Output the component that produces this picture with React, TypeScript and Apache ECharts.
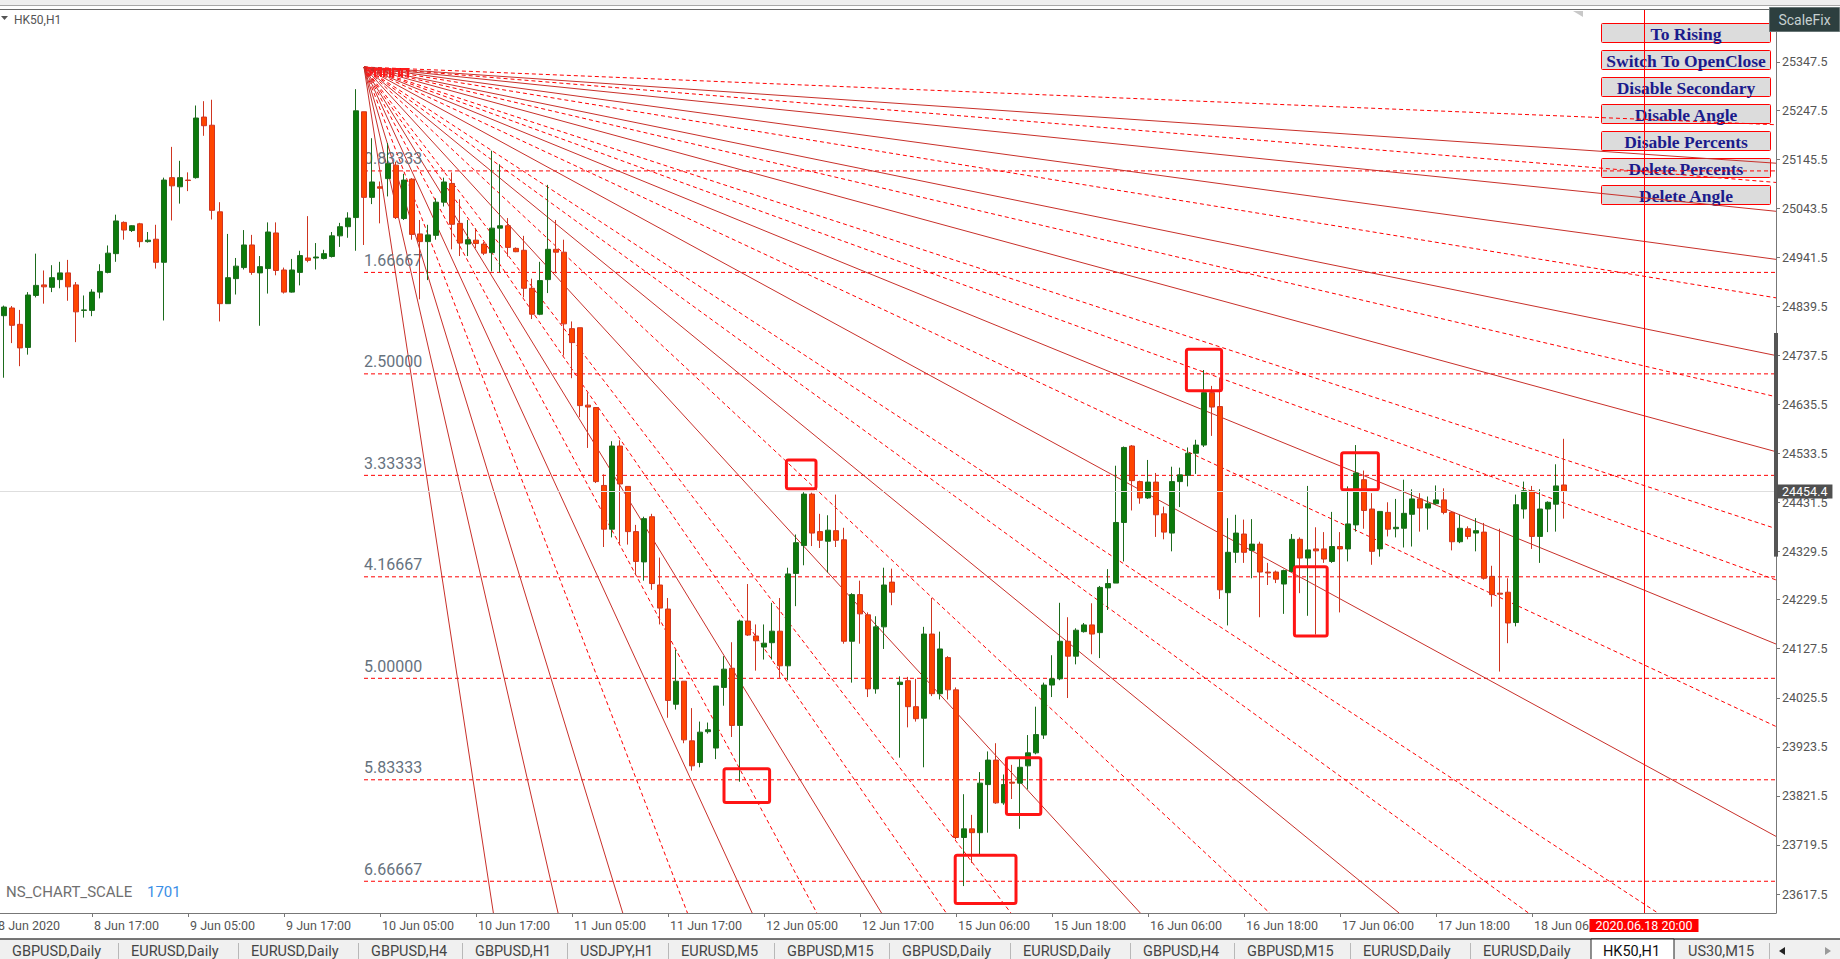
import React, { useEffect, useRef } from "react";
import * as echarts from "echarts";

// ---------------- data ----------------
// OHLC per hourly bar (open, close, low, high); the first candle sits in slot 1
const FIRST_SLOT = 1;
const CANDLES: number[][] = [
  [24820, 24838, 24691, 24841], [24836, 24800, 24763, 24840], [24802, 24753, 24715, 24832], [24754, 24863, 24739, 24869],
  [24862, 24883, 24858, 24949], [24884, 24880, 24845, 24914], [24879, 24899, 24869, 24925], [24895, 24909, 24877, 24932],
  [24909, 24880, 24851, 24936], [24884, 24828, 24765, 24890], [24831, 24832, 24816, 24862], [24831, 24869, 24819, 24875],
  [24869, 24912, 24856, 24927], [24910, 24950, 24908, 24966], [24949, 25017, 24932, 25030], [25014, 24998, 24978, 25016],
  [24997, 25007, 24994, 25008], [25011, 24974, 24962, 25013], [24974, 24977, 24972, 24994], [24979, 24931, 24918, 25009],
  [24931, 25102, 24810, 25107], [25107, 25090, 25018, 25171], [25088, 25107, 25053, 25142], [25102, 25101, 25079, 25118],
  [25107, 25231, 25105, 25257], [25233, 25215, 25194, 25266], [25216, 25039, 25020, 25269], [25036, 24845, 24808, 25056],
  [24845, 24899, 24845, 24990], [24897, 24923, 24864, 24940], [24920, 24967, 24916, 24998], [24967, 24910, 24905, 24988],
  [24909, 24922, 24799, 24944], [24918, 24994, 24866, 25014], [24992, 24914, 24904, 25014], [24915, 24869, 24866, 24920],
  [24869, 24915, 24868, 24938], [24910, 24945, 24883, 24955], [24940, 24935, 24931, 25027], [24940, 24942, 24916, 24971],
  [24939, 24949, 24937, 24957], [24943, 24986, 24941, 24994], [24986, 25005, 24963, 25013], [25005, 25023, 24982, 25035],
  [25024, 25246, 24955, 25291], [25244, 25066, 24967, 25244], [25066, 25098, 25052, 25189], [25088, 25085, 25012, 25099],
  [25105, 25136, 25068, 25179], [25133, 25024, 25021, 25140], [25022, 25102, 25019, 25115], [25104, 24989, 24978, 25106],
  [24990, 24974, 24854, 25019], [24974, 24988, 24894, 25009], [24987, 25056, 24978, 25064], [25056, 25098, 25047, 25107],
  [25095, 25010, 24958, 25118], [25012, 24971, 24944, 25062], [24969, 24978, 24944, 25019], [24977, 24970, 24960, 25002],
  [24969, 24950, 24946, 24973], [24951, 25002, 24912, 25163], [25002, 25007, 24910, 25135], [25007, 24962, 24943, 25023],
  [24960, 24953, 24952, 24962], [24956, 24877, 24858, 24986], [24877, 24823, 24813, 24897], [24823, 24893, 24821, 24932],
  [24895, 24958, 24867, 25092], [24958, 24952, 24908, 25019], [24952, 24803, 24737, 24978], [24793, 24764, 24690, 24808],
  [24795, 24633, 24609, 24795], [24634, 24630, 24545, 24660], [24629, 24475, 24472, 24630], [24467, 24376, 24339, 24490],
  [24376, 24549, 24359, 24559], [24549, 24470, 24346, 24561], [24465, 24371, 24344, 24465], [24371, 24309, 24281, 24385],
  [24308, 24398, 24269, 24402], [24402, 24263, 24250, 24408], [24260, 24212, 24178, 24317], [24210, 24020, 23984, 24233],
  [24012, 24060, 24001, 24125], [24060, 23938, 23931, 24060], [23936, 23884, 23874, 24004], [23891, 23954, 23881, 23976],
  [23955, 23959, 23951, 23974], [23921, 24050, 23898, 24050], [24047, 24085, 24009, 24112], [24087, 23968, 23944, 24141],
  [23968, 24185, 23851, 24188], [24185, 24156, 24154, 24262], [24154, 24144, 24082, 24178], [24131, 24139, 24105, 24178],
  [24140, 24164, 24105, 24223], [24164, 24092, 24067, 24233], [24092, 24283, 24062, 24296], [24284, 24348, 24216, 24365],
  [24342, 24449, 24301, 24453], [24449, 24368, 24341, 24452], [24371, 24353, 24337, 24408], [24351, 24374, 24286, 24405],
  [24373, 24353, 24339, 24448], [24354, 24143, 24138, 24379], [24143, 24240, 24057, 24243], [24240, 24200, 24138, 24269],
  [24198, 24044, 24027, 24203], [24044, 24173, 24034, 24195], [24173, 24260, 24127, 24296], [24266, 24245, 24218, 24294],
  [24053, 24058, 23901, 24070], [24061, 24007, 23964, 24069], [24007, 23982, 23976, 24065], [23983, 24158, 23881, 24173],
  [24158, 24034, 24029, 24233], [24034, 24127, 24022, 24163], [24109, 24042, 24022, 24112], [24042, 23735, 23731, 24047],
  [23735, 23753, 23634, 23825], [23753, 23745, 23682, 23782], [23745, 23848, 23699, 23871], [23845, 23896, 23745, 23914],
  [23896, 23807, 23805, 23931], [23807, 23845, 23803, 23866], [23850, 23848, 23815, 23886], [23848, 23881, 23753, 23901],
  [23884, 23911, 23835, 23948], [23911, 23949, 23908, 24007], [23948, 24052, 23940, 24057], [24052, 24065, 24027, 24114],
  [24065, 24143, 24062, 24223], [24143, 24112, 24025, 24193], [24112, 24166, 24095, 24170], [24163, 24177, 24161, 24181],
  [24177, 24158, 24116, 24222], [24161, 24255, 24108, 24258], [24254, 24263, 24208, 24293], [24264, 24390, 24264, 24508],
  [24390, 24546, 24309, 24548], [24549, 24477, 24415, 24551], [24475, 24441, 24429, 24477], [24441, 24474, 24439, 24520],
  [24474, 24406, 24360, 24493], [24408, 24370, 24355, 24423], [24368, 24475, 24330, 24506], [24475, 24489, 24422, 24504],
  [24488, 24534, 24465, 24546], [24534, 24551, 24491, 24562], [24551, 24660, 24547, 24707], [24660, 24630, 24570, 24674],
  [24631, 24250, 24231, 24690], [24244, 24328, 24176, 24399], [24328, 24368, 24306, 24406], [24366, 24328, 24306, 24396],
  [24332, 24345, 24274, 24397], [24345, 24287, 24193, 24350], [24287, 24285, 24260, 24306], [24287, 24272, 24264, 24290],
  [24262, 24290, 24200, 24292], [24288, 24355, 24287, 24366], [24355, 24316, 24243, 24359], [24316, 24333, 24196, 24466],
  [24335, 24331, 24157, 24380], [24335, 24314, 24306, 24370], [24309, 24340, 24306, 24412], [24340, 24335, 24203, 24370],
  [24335, 24387, 24309, 24465], [24385, 24493, 24371, 24551], [24479, 24415, 24377, 24498], [24418, 24330, 24302, 24451],
  [24335, 24413, 24319, 24413], [24411, 24376, 24361, 24432], [24377, 24380, 24359, 24439], [24378, 24409, 24338, 24479],
  [24407, 24439, 24340, 24459], [24439, 24420, 24371, 24451], [24420, 24429, 24375, 24444], [24429, 24437, 24427, 24467],
  [24437, 24411, 24407, 24461], [24411, 24350, 24332, 24413], [24350, 24378, 24347, 24406], [24377, 24361, 24355, 24382],
  [24368, 24373, 24330, 24399], [24370, 24274, 24271, 24389], [24278, 24240, 24215, 24300], [24243, 24241, 24080, 24377],
  [24245, 24181, 24139, 24274], [24182, 24427, 24174, 24448], [24418, 24456, 24398, 24475], [24456, 24361, 24335, 24466],
  [24361, 24418, 24306, 24459], [24418, 24432, 24370, 24434], [24428, 24466, 24371, 24511], [24468, 24454.4, 24398, 24564],
];

// time axis: slots 1..LAST_SLOT are visible; labels every 12 slots starting at slot 0
const LAST_SLOT = 222;
const TIME_LABEL_STEP = 12;
const TIME_LABELS = [
  "8 Jun 2020", "8 Jun 17:00", "9 Jun 05:00", "9 Jun 17:00", "10 Jun 05:00", "10 Jun 17:00",
  "11 Jun 05:00", "11 Jun 17:00", "12 Jun 05:00", "12 Jun 17:00", "15 Jun 06:00", "15 Jun 18:00",
  "16 Jun 06:00", "16 Jun 18:00", "17 Jun 06:00", "17 Jun 18:00", "18 Jun 06:00",
];
const PRICE_TICKS = [
  25347.5, 25247.5, 25145.5, 25043.5, 24941.5, 24839.5, 24737.5, 24635.5, 24533.5,
  24431.5, 24329.5, 24229.5, 24127.5, 24025.5, 23923.5, 23821.5, 23719.5, 23617.5,
];
const PRICE_MIN = 23578;
const PRICE_MAX = 25455.6;
const BID = 24454.4;
const CURSOR_SLOT = 206;
const CURSOR_LABEL = "2020.06.18 20:00";
const SCALE_BAR = [24784, 24319];

// fan: origin (slot, price); price drop per bar for ratio 1
const FAN_ORIGIN = [46, 25337];
const FAN_DROP_PER_BAR = 27.19;
const ANGLE_RATIOS = [0.25, 0.375, 0.5, 0.75, 1, 1.5, 2, 3, 4, 6, 8, 12, 16, 24];
const PERCENT_RATIOS = [0.625, 0.875, 1.125, 1.25, 1.75, 2.25, 2.5, 3.5, 4.5, 5, 7, 10, 20, 40];
const LEVEL_PRICES = [25121, 24910, 24699, 24488, 24277, 24066, 23855, 23644];
const LEVEL_LABELS = ["0.83333", "1.66667", "2.50000", "3.33333", "4.16667", "5.00000", "5.83333", "6.66667"];

// highlight rectangles: [slotFrom, slotTo, priceTop, priceBottom]
const BOXES = [
  [148.8, 153.2, 24750, 24664],
  [168.2, 172.8, 24535, 24458],
  [162.3, 166.4, 24298, 24154],
  [98.8, 102.5, 24520, 24460],
  [91.0, 96.7, 23878, 23808],
  [126.3, 130.6, 23901, 23783],
  [119.9, 127.5, 23698, 23598],
];

const BUTTONS = ["To Rising", "Switch To OpenClose", "Disable Secondary", "Disable Angle", "Disable Percents", "Delete Percents", "Delete Angle"];
const TABS = ["GBPUSD,Daily", "EURUSD,Daily", "EURUSD,Daily", "GBPUSD,H4", "GBPUSD,H1", "USDJPY,H1", "EURUSD,M5", "GBPUSD,M15",
  "GBPUSD,Daily", "EURUSD,Daily", "GBPUSD,H4", "GBPUSD,M15", "EURUSD,Daily", "EURUSD,Daily", "HK50,H1", "US30,M15"];
const ACTIVE_TAB_INDEX = 14;

// ---------------- layout (pixels) ----------------
const W = 1840;
const H = 959;
const TAB_X = [12, 131, 251, 371, 475, 580, 681, 787, 902, 1023, 1143, 1247, 1363, 1483, 1603, 1688];
const FONT = "Roboto";
const AXIS_LABEL_COLOR = "#555";

function rayPoints(r: number) {
  const [t0, p0] = FAN_ORIGIN;
  const slope = FAN_DROP_PER_BAR / r;
  let t = LAST_SLOT + 0.5;
  let p = p0 - slope * (t - t0);
  if (p < PRICE_MIN) {
    t = t0 + (p0 - PRICE_MIN) / slope;
    p = PRICE_MIN;
  }
  return [[t0, p0], [t, p]];
}

function buildOption(): any {
  // category index j holds slot j + 1
  const categories = Array.from({ length: LAST_SLOT }, (_, j) => String(j + 1));
  const candleData: any[] = [];
  for (let s = 1; s < FIRST_SLOT; s++) candleData.push(["-", "-", "-", "-"]);
  CANDLES.forEach((c) => candleData.push(c));

  const labelIndexOfSlot = (slot: number) =>
    slot % TIME_LABEL_STEP === 0 && slot / TIME_LABEL_STEP < TIME_LABELS.length ? slot / TIME_LABEL_STEP : -1;
  const isLabelCat = (j: number) => labelIndexOfSlot(j + 1) >= 0;

  const series: any[] = [];
  const lineBase = { type: "line", xAxisIndex: 1, yAxisIndex: 0, silent: true, symbol: "none", z: 1, clip: true };

  LEVEL_PRICES.forEach((p) => {
    series.push({ ...lineBase, data: [[FAN_ORIGIN[0], p], [LAST_SLOT + 0.5, p]], lineStyle: { color: "#ff0000", width: 1, type: [4, 3] } });
  });
  PERCENT_RATIOS.forEach((r) => {
    series.push({ ...lineBase, data: rayPoints(r), lineStyle: { color: "#ff0000", width: 1, type: [4, 3] } });
  });
  ANGLE_RATIOS.forEach((r) => {
    series.push({ ...lineBase, data: rayPoints(r), lineStyle: { color: "#c8302a", width: 1, type: "solid" } });
  });

  // bid line
  series.push({
    ...lineBase, data: [],
    markLine: {
      symbol: "none", silent: true, animation: false,
      data: [{ yAxis: BID }],
      lineStyle: { color: "#dedede", width: 1, type: "solid" },
      label: {
        show: true, position: "end", distance: 1, formatter: BID.toFixed(1),
        backgroundColor: "#505050", color: "#ffffff", fontSize: 12.5, fontFamily: FONT,
        padding: [1, 5, 0, 5],
      },
    },
  });

  // level labels
  series.push({
    type: "custom", xAxisIndex: 1, yAxisIndex: 0, silent: true, z: 2,
    data: LEVEL_PRICES.map((p, i) => [FAN_ORIGIN[0], p, i]),
    encode: { x: 0, y: 1 },
    renderItem: (_p: any, api: any) => {
      const c = api.coord([api.value(0), api.value(1)]);
      return {
        type: "text", x: c[0], y: c[1] - 4,
        style: {
          text: LEVEL_LABELS[api.value(2)], fill: "#66727e", fontSize: 16, fontFamily: FONT,
          align: "left", verticalAlign: "bottom", textAlign: "left", textVerticalAlign: "bottom",
        },
      };
    },
  });

  // fan origin markers (overlapping object labels at the anchor)
  series.push({
    type: "custom", xAxisIndex: 1, yAxisIndex: 0, silent: true, z: 2,
    data: [[FAN_ORIGIN[0], FAN_ORIGIN[1]]], encode: { x: 0, y: 1 },
    renderItem: (_p: any, api: any) => {
      const c = api.coord([api.value(0), api.value(1)]);
      const children: any[] = [
        { type: "text", x: c[0] + 1, y: c[1] - 2, style: { text: "5", fill: "#ff1a1a", fontSize: 13, fontWeight: "bold", fontFamily: FONT, verticalAlign: "top", textVerticalAlign: "top" } },
      ];
      for (let k = 0; k < 4; k++) {
        const x = c[0] + 11 + k * 9;
        children.push({ type: "polyline", shape: { points: [[x, c[1] + 10], [x, c[1] + 2], [x + 6, c[1] + 2], [x + 6, c[1] + 10]] }, style: { stroke: "#ff1a1a", lineWidth: 2, fill: "none" } });
      }
      return { type: "group", children };
    },
  });

  // first time label (its slot lies left of the visible axis)
  series.push({
    type: "custom", xAxisIndex: 1, yAxisIndex: 0, silent: true, z: 2,
    data: [[0, PRICE_MIN]], encode: { x: 0, y: 1 },
    renderItem: (_p: any, api: any) => {
      const c = api.coord([api.value(0), api.value(1)]);
      return {
        type: "text", x: c[0] + 2, y: c[1] + 6,
        style: { text: TIME_LABELS[0], fill: AXIS_LABEL_COLOR, fontSize: 12.5, fontFamily: FONT, verticalAlign: "top", textVerticalAlign: "top" },
      };
    },
  });

  // candles
  series.push({
    type: "candlestick", xAxisIndex: 0, yAxisIndex: 0, silent: true, z: 3,
    data: candleData, barWidth: 5,
    itemStyle: {
      color: "#0b7a0b", color0: "#ff4500",
      borderColor: "#1d6b1d", borderColor0: "#cf3520", borderWidth: 1,
    },
  });

  // boxes
  series.push({
    type: "custom", xAxisIndex: 1, yAxisIndex: 0, silent: true, z: 4,
    data: BOXES, encode: { x: [0, 1], y: [2, 3] },
    renderItem: (_p: any, api: any) => {
      const a = api.coord([api.value(0), api.value(2)]);
      const b = api.coord([api.value(1), api.value(3)]);
      return {
        type: "rect",
        shape: { x: a[0], y: a[1], width: b[0] - a[0], height: b[1] - a[1], r: 2 },
        style: { fill: "none", stroke: "#ff1414", lineWidth: 3 },
      };
    },
  });

  // scale bar on price axis
  series.push({
    type: "custom", xAxisIndex: 1, yAxisIndex: 0, silent: true, z: 5,
    data: [[LAST_SLOT + 0.5, SCALE_BAR[0], SCALE_BAR[1]]], encode: { x: 0, y: [1, 2] },
    renderItem: (_p: any, api: any) => {
      const a = api.coord([api.value(0), api.value(1)]);
      const b = api.coord([api.value(0), api.value(2)]);
      return { type: "rect", shape: { x: a[0] - 2, y: a[1], width: 4, height: b[1] - a[1] }, style: { fill: "#555555" } };
    },
  });

  // cursor vertical line
  series.push({
    ...lineBase, z: 6, data: [],
    markLine: {
      symbol: "none", silent: true, animation: false,
      data: [{ xAxis: CURSOR_SLOT }],
      lineStyle: { color: "#ff0000", width: 1, type: "solid" },
      label: {
        show: true, position: "start", distance: 6, formatter: CURSOR_LABEL,
        backgroundColor: "#ff0000", color: "#ffffff", fontSize: 12.5, fontFamily: FONT,
        padding: [0, 6, 0, 6], lineHeight: 13,
      },
    },
  });

  // graphics
  const g: any[] = [];
  g.push({ type: "rect", shape: { x: 0, y: 0, width: W, height: 5 }, style: { fill: "#efefef" }, z: 0 });
  g.push({ type: "line", shape: { x1: 0, y1: 5.5, x2: W, y2: 5.5 }, style: { stroke: "#a8a8a8", lineWidth: 1 }, z: 0 });
  g.push({ type: "line", shape: { x1: 0, y1: 9.5, x2: W, y2: 9.5 }, style: { stroke: "#6a6a6a", lineWidth: 1 }, z: 0 });
  g.push({ type: "polygon", shape: { points: [[1573, 11], [1583, 11], [1583, 17]] }, style: { fill: "#c8c8c8" }, z: 0 });
  g.push({ type: "polygon", shape: { points: [[1, 16], [8, 16], [4.5, 20]] }, style: { fill: "#555" }, z: 10 });
  g.push({ type: "text", x: 14, y: 20, style: { text: "HK50,H1", fill: "#555", fontSize: 12, fontFamily: FONT, textVerticalAlign: "middle", verticalAlign: "middle" }, z: 10 });

  // ScaleFix
  g.push({ type: "rect", shape: { x: 1769.5, y: 7.5, width: 70, height: 24 }, style: { fill: "#2d3f3f", stroke: "#677575", lineWidth: 1 }, z: 10 });
  g.push({ type: "text", x: 1804.5, y: 20, style: { text: "ScaleFix", fill: "#c6d0d0", fontSize: 14, fontFamily: FONT, textAlign: "center", align: "center", textVerticalAlign: "middle", verticalAlign: "middle" }, z: 11 });

  // buttons (drawn beneath chart objects)
  BUTTONS.forEach((b, i) => {
    const y = 23.5 + 27 * i;
    g.push({ type: "rect", shape: { x: 1601.5, y, width: 169, height: 19, r: 1 }, style: { fill: "#dcdcdc", stroke: "#ff0000", lineWidth: 1 }, z: 0 });
    g.push({
      type: "text", x: 1686, y: y + 10,
      style: { text: b, fill: "#1b1b8c", font: 'bold 17.5px "Liberation Serif"', textAlign: "center", align: "center", textVerticalAlign: "middle", verticalAlign: "middle" },
      z: 0,
    });
  });

  // NS_CHART_SCALE
  g.push({ type: "text", x: 6, y: 892, style: { text: "NS_CHART_SCALE", fill: "#707070", fontSize: 15, fontFamily: FONT, textVerticalAlign: "middle", verticalAlign: "middle" }, z: 10 });
  g.push({ type: "text", x: 147, y: 892, style: { text: "1701", fill: "#3a8ee6", fontSize: 15, fontFamily: FONT, textVerticalAlign: "middle", verticalAlign: "middle" }, z: 10 });

  // tab bar
  g.push({ type: "rect", shape: { x: 0, y: 939, width: W, height: 20 }, style: { fill: "#f0f0f0" }, z: 10 });
  g.push({ type: "line", shape: { x1: 0, y1: 939, x2: W, y2: 939 }, style: { stroke: "#4a4a4a", lineWidth: 1.5 }, z: 11 });
  TABS.forEach((t, i) => {
    const x = TAB_X[i];
    const active = i === ACTIVE_TAB_INDEX;
    if (active) {
      const x2 = TAB_X[i + 1] - 14;
      g.push({ type: "rect", shape: { x: x - 12, y: 939, width: x2 - (x - 12), height: 21 }, style: { fill: "#ffffff", stroke: "#222", lineWidth: 1 }, z: 12 });
    } else if (i !== ACTIVE_TAB_INDEX + 1) {
      g.push({ type: "line", shape: { x1: x - 12.5, y1: 943, x2: x - 12.5, y2: 959 }, style: { stroke: "#b8b8b8", lineWidth: 1 }, z: 11 });
    }
    g.push({
      type: "text", x, y: 951,
      style: { text: t, fill: active ? "#111" : "#454545", fontSize: 14.5, fontFamily: FONT, textVerticalAlign: "middle", verticalAlign: "middle" },
      z: 13,
    });
  });
  g.push({ type: "line", shape: { x1: 1769.5, y1: 943, x2: 1769.5, y2: 959 }, style: { stroke: "#b8b8b8", lineWidth: 1 }, z: 11 });
  g.push({ type: "polygon", shape: { points: [[1779, 951], [1785, 947], [1785, 955]] }, style: { fill: "#222" }, z: 12 });
  g.push({ type: "polygon", shape: { points: [[1831, 951], [1825, 947], [1825, 955]] }, style: { fill: "#9a9a9a" }, z: 12 });

  return {
    animation: false,
    backgroundColor: "#ffffff",
    grid: { left: 0, right: 64, top: 10, bottom: 46, containLabel: false },
    xAxis: [
      {
        type: "category", data: categories, boundaryGap: true,
        axisLine: { show: true, onZero: false, lineStyle: { color: "#777", width: 1 } },
        axisTick: { show: true, alignWithLabel: true, interval: (j: number) => isLabelCat(j), length: 4, lineStyle: { color: "#777" } },
        axisLabel: {
          show: true, interval: (j: number) => isLabelCat(j),
          formatter: (_v: string, j: number) => {
            const k = labelIndexOfSlot(j + 1);
            return k >= 0 ? TIME_LABELS[k] : "";
          },
          align: "left", margin: 6, padding: [0, 0, 0, 2], color: AXIS_LABEL_COLOR, fontSize: 12.5, fontFamily: FONT,
        },
        splitLine: { show: false },
      },
      { type: "value", min: 0.5, max: LAST_SLOT + 0.5, show: false, axisLine: { onZero: false } },
    ],
    yAxis: {
      type: "value", position: "right", min: PRICE_MIN, max: PRICE_MAX, scale: true,
      axisLine: { show: true, onZero: false, lineStyle: { color: "#777", width: 1 } },
      axisTick: { show: true, customValues: PRICE_TICKS, length: 4, lineStyle: { color: "#777" } },
      axisLabel: { show: true, customValues: PRICE_TICKS, formatter: (v: number) => v.toFixed(1), color: AXIS_LABEL_COLOR, fontSize: 12.5, fontFamily: FONT, margin: 6 },
      splitLine: { show: false },
    },
    series,
    graphic: { elements: g },
  };
}

export default function App() {
  const ref = useRef<HTMLDivElement>(null);
  useEffect(() => {
    if (!ref.current) return;
    const chart = echarts.init(ref.current, null, { renderer: "svg" });
    chart.setOption(buildOption());
    return () => chart.dispose();
  }, []);
  return <div ref={ref} style={{ position: "fixed", left: 0, top: 0, width: W, height: H, background: "#fff" }} />;
}
